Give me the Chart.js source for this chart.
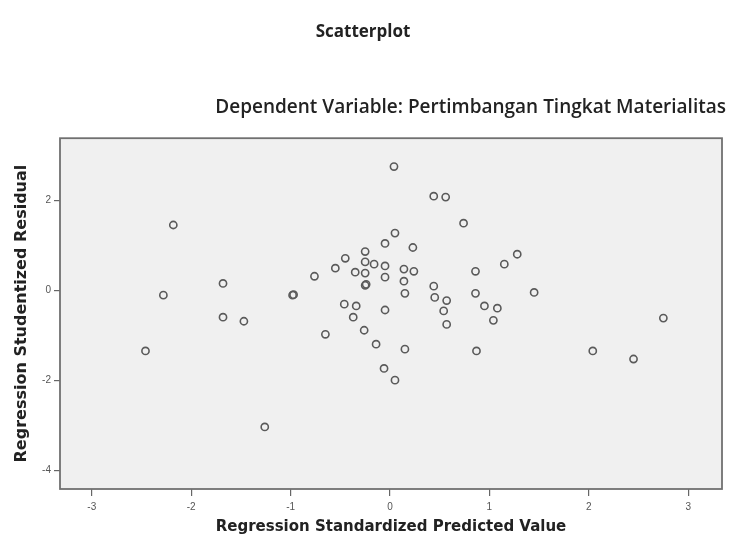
<!DOCTYPE html>
<html>
<head>
<meta charset="utf-8">
<script src="https://cdn.jsdelivr.net/npm/chart.js@4.4.1/dist/chart.umd.min.js"></script>
<style>
    html, body { margin: 0; padding: 0; background: #fff; }
    #wrap { width: 734px; height: 545px; }
</style>
</head>
<body>
<div id="wrap"><canvas id="scatterChart" width="734" height="545"></canvas></div>
<script>
// Datos (valor predicho estandarizado vs residuo studentizado)
const predicho = [
    -2.18, -1.68, -2.28, 0.04, 0.44, 0.56, 0.74, 0.05, -0.05, 0.23,
    -0.25, -0.45, -0.55, -0.25, -0.16, -0.05, -0.35, -0.25, 0.14, 0.24,
    -0.05, 0.14, -0.25, -0.24, -0.76, -0.98, -0.97, 0.15, 0.44, 0.45,
    0.57, 0.86, 0.86, -0.46, -0.34, -0.05, 0.54, 1.28, 1.15, 1.45,
    0.95, 1.08, -1.68, -1.47, -2.46, -1.26, -0.37, -0.26, -0.65, -0.14,
    0.15, -0.06, 0.05, 0.57, 0.87, 1.04, 2.04, 2.45, 2.75
];
const residuo = [
    1.45, 0.15, -0.11, 2.75, 2.09, 2.07, 1.49, 1.27, 1.04, 0.95,
    0.86, 0.71, 0.49, 0.63, 0.58, 0.54, 0.40, 0.38, 0.47, 0.42,
    0.29, 0.20, 0.11, 0.13, 0.31, -0.11, -0.10, -0.07, 0.09, -0.16,
    -0.23, 0.42, -0.07, -0.31, -0.35, -0.44, -0.46, 0.80, 0.58, -0.05,
    -0.35, -0.40, -0.60, -0.69, -1.35, -3.04, -0.60, -0.89, -0.98, -1.20,
    -1.31, -1.74, -2.00, -0.76, -1.35, -0.67, -1.35, -1.53, -0.62
];
const xTicks = [-3, -2, -1, 0, 1, 2, 3];
const yTicks = [2, 0, -2, -4];

const puntos = predicho.map((x, i) => ({ x: x, y: residuo[i] }));

// Fondo gris y marco del área del gráfico
const fondoArea = {
    id: 'fondoArea',
    beforeDraw(chart) {
        const { ctx, chartArea: a } = chart;
        ctx.save();
        ctx.fillStyle = '#f0f0f0';
        ctx.fillRect(a.left, a.top, a.right - a.left, a.bottom - a.top);
        ctx.restore();
    },
    afterDraw(chart) {
        const { ctx, chartArea: a } = chart;
        ctx.save();
        ctx.strokeStyle = '#707070';
        ctx.lineWidth = 1.8;
        ctx.strokeRect(a.left, a.top, a.right - a.left, a.bottom - a.top);
        ctx.restore();
    }
};

const ctx = document.getElementById('scatterChart').getContext('2d');
const scatterChart = new Chart(ctx, {
    type: 'scatter',
    data: {
        datasets: [{
            data: puntos,
            pointRadius: 3.6,
            pointBorderWidth: 1.6,
            pointBorderColor: '#5a5a5a',
            pointBackgroundColor: 'rgba(0,0,0,0)'
        }]
    },
    options: {
        responsive: false,
        animation: false,
        layout: { padding: { left: 0, right: 8, top: 0, bottom: 0 } },
        plugins: {
            legend: { display: false },
            tooltip: { enabled: false },
            title: {
                display: true,
                text: 'Scatterplot',
                color: '#222',
                font: { family: 'Open Sans', size: 17, weight: 'bold' },
                padding: { top: 22, bottom: 0 }
            },
            subtitle: {
                display: true,
                text: 'Dependent Variable: Pertimbangan Tingkat Materialitas',
                align: 'end',
                color: '#222',
                font: { family: 'Open Sans', size: 19, weight: '600' },
                padding: { top: 54, bottom: 19 }
            }
        },
        scales: {
            x: {
                type: 'linear',
                min: -3.32,
                max: 3.34,
                afterBuildTicks: scale => { scale.ticks = xTicks.map(v => ({ value: v })); },
                afterFit: scale => { scale.height = 56; },
                grid: { drawOnChartArea: false, tickLength: 7, color: '#666', lineWidth: 1.2 },
                border: { display: false },
                ticks: { color: '#555', font: { family: 'Liberation Sans', size: 10 }, padding: 5 },
                title: {
                    display: true,
                    text: 'Regression Standardized Predicted Value',
                    color: '#222',
                    font: { family: 'DejaVu Sans', size: 15, weight: 'bold' },
                    padding: { top: 0, bottom: 9 }
                }
            },
            y: {
                type: 'linear',
                min: -4.42,
                max: 3.38,
                afterBuildTicks: scale => { scale.ticks = yTicks.map(v => ({ value: v })); },
                afterFit: scale => { scale.width = 60; },
                grid: { drawOnChartArea: false, tickLength: 6, color: '#666', lineWidth: 1.2 },
                border: { display: false },
                ticks: { color: '#555', font: { family: 'Liberation Sans', size: 10 }, padding: 3 },
                title: {
                    display: true,
                    text: 'Regression Studentized Residual',
                    color: '#222',
                    font: { family: 'DejaVu Sans', size: 16, weight: 'bold' },
                    padding: { top: 12, bottom: 0 }
                }
            },
            // eje vacío a la derecha para dejar el margen del área
            derecha: {
                type: 'linear',
                position: 'right',
                display: true,
                afterFit: scale => { scale.width = 4; },
                grid: { display: false },
                ticks: { display: false },
                border: { display: false }
            }
        }
    },
    plugins: [fondoArea]
});
</script>
</body>
</html>
